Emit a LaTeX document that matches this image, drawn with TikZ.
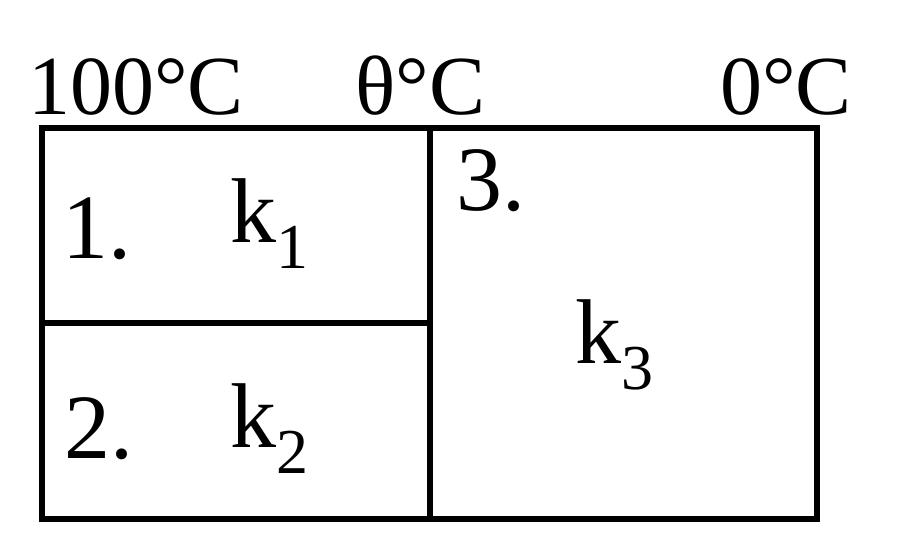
\documentclass[tikz,border=0pt]{standalone}
\usepackage{fontspec}
\setmainfont{Liberation Serif}
\newcommand{\ksub}[1]{k\raisebox{-26pt}{\fontsize{64}{70}\selectfont #1}}
\begin{document}
\begin{tikzpicture}[x=1pt,y=-1pt,
  box/.style={line width=6pt},
  lab/.style={inner sep=0pt,anchor=base west,font=\fontsize{92}{100}\selectfont},
  top/.style={inner sep=0pt,anchor=base west,font=\fontsize{84}{96}\selectfont}]
\useasboundingbox (0,0) rectangle (900,559);
\coordinate (tl) at (42,128);
\coordinate (tm) at (430,128);
\coordinate (tr) at (817,128);
\coordinate (bl) at (42,519);
\coordinate (bm) at (430,519);
\coordinate (br) at (817,519);
\coordinate (ml) at (42,323);
\coordinate (mm) at (430,323);
\draw[box] (tl) rectangle (br);
\draw[box] (tm) -- (bm);
\draw[box] (ml) -- (mm);
\node[top] (t100) at (28,115) {100°C};
\node[top] (ttheta) at (355,115) {θ°C};
\node[top] (t0) at (720,115) {0°C};
\node[lab] (n1) at (62,258) {1.};
\node[lab] (k1) at (230,242) {\ksub{1}};
\node[lab] (n2) at (64,458) {2.};
\node[lab] (k2) at (230,447) {\ksub{2}};
\node[lab] (n3) at (456,210) {3.};
\node[lab] (k3) at (575,363) {\ksub{3}};
\end{tikzpicture}
\end{document}
